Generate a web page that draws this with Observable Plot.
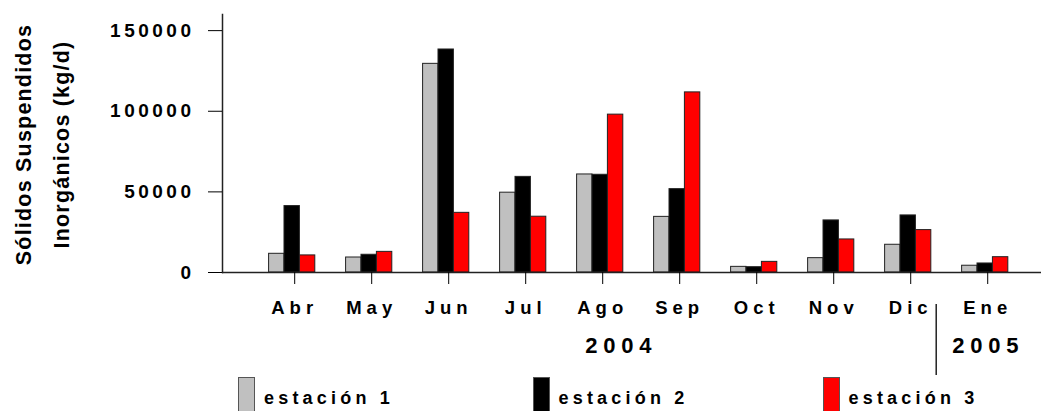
<!DOCTYPE html>
<html>
<head>
<meta charset="utf-8">
<script src="https://cdn.jsdelivr.net/npm/d3@7"></script>
<script src="https://cdn.jsdelivr.net/npm/@observablehq/plot@0.6"></script>
<style>
  html, body { margin: 0; padding: 0; background: #fff; }
  body { width: 1041px; height: 411px; overflow: hidden; font-family: "Liberation Sans", Arial, sans-serif; }
  #chart svg { display: block; }
  g[aria-label="x-axis tick label"] text { letter-spacing: 5px; }
  g[aria-label="y-axis tick label"] text { letter-spacing: 3.5px; }
  g[aria-label="text"][font-size="22"] text { letter-spacing: 5.7px; }
  g[aria-label="text"][font-size="21.5"] text { letter-spacing: 1.2px; }
  #legend { position: relative; width: 1041px; height: 39px; }
  .item { position: absolute; top: 5px; height: 40px; display: flex; align-items: flex-start; }
  .sw { width: 15px; height: 40px; border: 1.5px solid #555; border-bottom: none; box-sizing: content-box; }
  .lab { margin-left: 9px; margin-top: 11px; font-size: 18px; font-weight: bold; letter-spacing: 4.2px; color: #000; }
</style>
</head>
<body>
<div id="chart"></div>
<div id="legend"></div>
<script>
const months = ["Abr", "May", "Jun", "Jul", "Ago", "Sep", "Oct", "Nov", "Dic", "Ene"];
const stations = ["estación 1", "estación 2", "estación 3"];
const est1 = [11600, 9300, 129400, 49500, 60800, 34500, 3500, 8900, 17200, 4200];
const est2 = [41200, 11000, 138300, 59300, 60600, 51700, 3300, 32300, 35400, 5600];
const est3 = [10600, 12800, 37000, 34600, 97900, 111700, 6600, 20500, 26300, 9500];
const colors = ["#c0c0c0", "#000000", "#ff0000"];
const yTicks = [0, 50000, 100000, 150000];
const yLabel1 = "Sólidos Suspendidos";
const yLabel2 = "Inorgánicos (kg/d)";
const years = ["2004", "2005"];

const series = [est1, est2, est3];
const data = [];
stations.forEach((s, j) => months.forEach((m, i) => data.push({month: m, station: s, value: series[j][i]})));

const barW = 15.4;
const font = "Liberation Sans, Arial, sans-serif";

const chart = Plot.plot({
  width: 1041,
  height: 372,
  marginLeft: 222,
  marginRight: 0,
  marginTop: 14,
  marginBottom: 100,
  style: {fontFamily: font, background: "#fff", overflow: "visible", color: "#000"},
  x: {domain: months, paddingInner: 0.8, paddingOuter: 0.718, align: 0.5606, round: false, axis: null},
  y: {domain: [0, 160000], axis: null},
  marks: [
    ...stations.map((s, j) => Plot.barY(data.filter(d => d.station === s), {
      x: "month", y: "value", fill: colors[j], stroke: "#222", strokeWidth: 1, dx: (j - 1) * barW
    })),
    Plot.ruleY([0], {stroke: "#222", strokeWidth: 1.5}),
    Plot.frame({anchor: "left", stroke: "#222", strokeWidth: 1.5}),
    Plot.axisY({ticks: yTicks, tickFormat: d3.format("d"), tickSize: 14, tickPadding: 14, fontSize: 19, fontWeight: "bold", label: null}),
    Plot.axisX({tickSize: 12, tickPadding: 16, fontSize: 18.5, fontWeight: "bold", dx: 2.5, label: null}),
    Plot.text([years[0]], {x: () => "Ago", text: d => d, frameAnchor: "bottom", dy: 80, dx: 21, fontSize: 22, fontWeight: "bold"}),
    Plot.text([years[1]], {x: () => "Ene", text: d => d, frameAnchor: "bottom", dy: 80, dx: 3, fontSize: 22, fontWeight: "bold"}),
    Plot.ruleX(["Ene"], {y1: -19800, y2: -63900, dx: -49, stroke: "#222", strokeWidth: 1.5}),
    Plot.text([yLabel1], {frameAnchor: "left", textAnchor: "middle", lineAnchor: "middle", text: d => d, rotate: -90, dx: -198, dy: 1, fontSize: 21.5, fontWeight: "bold"}),
    Plot.text([yLabel2], {frameAnchor: "left", textAnchor: "middle", lineAnchor: "middle", text: d => d, rotate: -90, dx: -160.5, dy: 1, fontSize: 21.5, fontWeight: "bold"})
  ]
});
document.getElementById("chart").appendChild(chart);

const legendLefts = [238, 532.5, 822.5];
const legend = document.getElementById("legend");
stations.forEach((s, j) => {
  const item = document.createElement("div");
  item.className = "item";
  item.style.left = legendLefts[j] + "px";
  const sw = document.createElement("div");
  sw.className = "sw";
  sw.style.background = colors[j];
  const lab = document.createElement("div");
  lab.className = "lab";
  lab.textContent = s;
  item.appendChild(sw);
  item.appendChild(lab);
  legend.appendChild(item);
});
</script>
</body>
</html>
